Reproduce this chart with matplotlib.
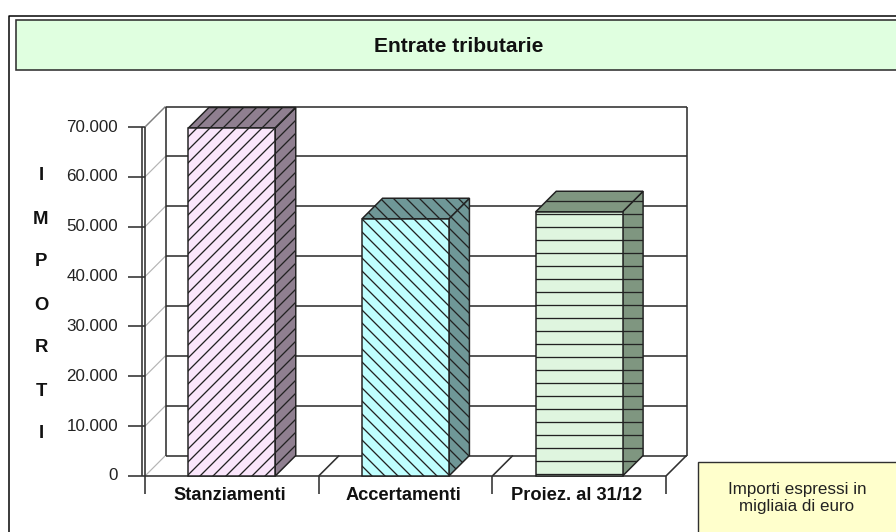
import matplotlib
matplotlib.use("Agg")
import matplotlib.pyplot as plt
import numpy as np
from matplotlib.patches import Polygon, Rectangle
from matplotlib.lines import Line2D
from matplotlib.transforms import IdentityTransform

categories = ["Stanziamenti", "Accertamenti", "Proiez. al 31/12"]
values = [69800, 51600, 53000]
y_ticks = [0, 10000, 20000, 30000, 40000, 50000, 60000, 70000]
y_tick_labels = ["0", "10.000", "20.000", "30.000", "40.000", "50.000", "60.000", "70.000"]
axis_letters = ["I", "M", "P", "O", "R", "T", "I"]
title = "Entrate tributarie"
note = "Importi espressi in\nmigliaia di euro"

front_colors = ["#FAE6FB", "#C0FFFF", "#DFF5DF"]
dark_colors = ["#8F7F90", "#6F9797", "#7F9680"]
hatches = ["//", "\\\\", "-"]

W, H = 896, 532
DPI = 78
PX = 72 / DPI
plt.rcParams["font.family"] = ["Liberation Sans", "DejaVu Sans"]
plt.rcParams["hatch.linewidth"] = 1.3 * PX

fig = plt.figure(figsize=(W / DPI, H / DPI), dpi=DPI, facecolor="white")
ax = fig.add_axes([145 / W, (H - 476) / H, (666 - 145) / W, (476 - 127) / H])
ax.set_xlim(0, 3)
ax.set_ylim(0, 70000)
ax.axis("off")
ident = IdentityTransform()
LINE = "#303030"


def proj(x, v, d=0.0):
    p = ax.transData.transform((x, v))
    return (p[0] + 20.5 * d, p[1] + 20.5 * d)


def seg(a, b, color=LINE, lw=1.6, z=2):
    fig.add_artist(Line2D([a[0], b[0]], [a[1], b[1]], transform=ident, color=color,
                          lw=lw * PX, zorder=z, solid_capstyle="butt"))


def box(x0, ytop, x1, ybot, fc, ec, lw, z=1):
    fig.add_artist(Rectangle((x0, H - ybot), x1 - x0, ybot - ytop, transform=ident,
                             fc=fc, ec=ec, lw=lw * PX, zorder=z, clip_on=False))


# Outer frame (only top and left are visible)
fig.add_artist(Line2D([8.5, 8.5, W], [0.5, H - 15.5, H - 15.5], transform=ident, color="black",
                      lw=1.5 * PX, zorder=1))
# Title box and note box
box(15.5, 19.5, W + 5, 69.5, "#E0FFE0", "#303030", 1.6)
fig.text(458.5 / W, (H - 47) / H, title, ha="center", va="center", weight="bold",
         fontsize=21 * PX, color="#111111")
box(697.5, 462, W + 5, H + 5, "#FFFFCC", "#303030", 1.4)
fig.text(797 / W, (H - 498) / H, note, ha="center", va="center", fontsize=17 * PX,
         color="#222222", linespacing=1.2)

# Walls and gridlines
for t in y_ticks:
    seg(proj(0, t), proj(0, t, 1), color="#B5B5B5", lw=1.2)
    seg(proj(0, t, 1), proj(3, t, 1))
    seg((128, proj(0, t)[1]), proj(0, t))
seg(proj(0, 70000), proj(0, 70000, 1), color="#808080", lw=1.3)
seg(proj(0, 0, 1), proj(0, 70000, 1))
seg(proj(3, 0, 1), proj(3, 70000, 1))
seg(proj(0, 0), proj(3, 0))
seg((142, proj(0, 0)[1]), (142, proj(0, 70000)[1]))
seg((proj(0, 0)[0], proj(0, 0)[1] - 18), proj(0, 70000))
for i in range(1, 4):
    seg(proj(i, 0), (proj(i, 0)[0], proj(i, 0)[1] - 18))
    seg(proj(i, 0), proj(i, 0, 1))

# Bars: front, side and top face
for i, v in enumerate(values):
    x0, x1 = i + 0.25, i + 0.75
    faces = [
        ([proj(x1, 0), proj(x1, 0, 1), proj(x1, v, 1), proj(x1, v)], dark_colors[i]),
        ([proj(x0, v), proj(x1, v), proj(x1, v, 1), proj(x0, v, 1)], dark_colors[i]),
        ([proj(x0, 0), proj(x1, 0), proj(x1, v), proj(x0, v)], front_colors[i]),
    ]
    for pts, c in faces:
        fig.add_artist(Polygon(pts, closed=True, transform=ident, facecolor=c, edgecolor="#222222",
                               hatch=hatches[i], lw=1.5 * PX, zorder=3))
    fig.text((proj(i + 0.5, 0)[0] - 2.5) / W, (H - 495.5) / H, categories[i], ha="center", va="center",
             weight="bold", fontsize=18.3 * PX, color="#111111")

# Value labels and axis letters
for t, lab in zip(y_ticks, y_tick_labels):
    fig.text(118 / W, proj(0, t)[1] / H, lab, ha="right", va="center", fontsize=17 * PX, color="#222222")
for k, ch in enumerate(axis_letters):
    fig.text(41 / W, (H - (176 + k * 43)) / H, ch, ha="center", va="center", weight="bold",
             fontsize=18.5 * PX, color="#111111")

fig.savefig("out.png", dpi=DPI)
